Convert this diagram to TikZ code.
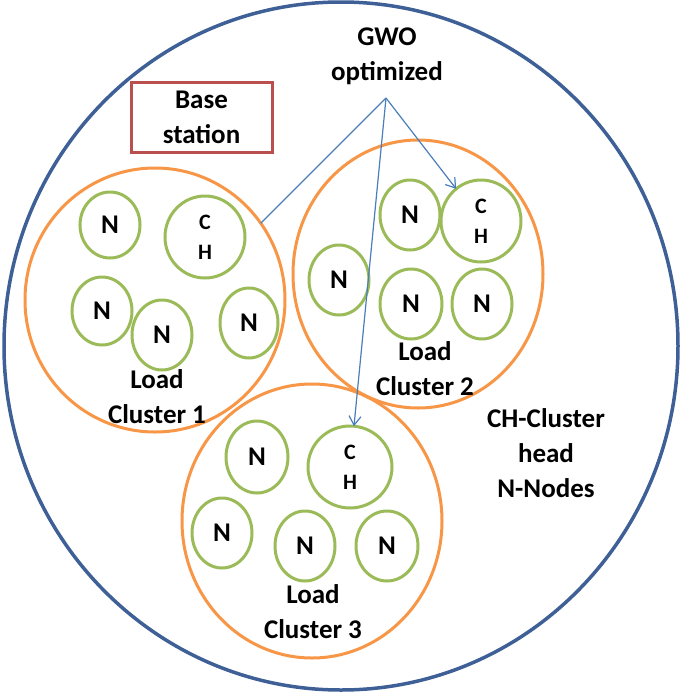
\documentclass[tikz,border=0pt]{standalone}
\usepackage{fontspec}
\setmainfont{Carlito}
\usetikzlibrary{shapes.geometric,arrows.meta}
\definecolor{outerblue}{RGB}{62,96,150}
\definecolor{arrowblue}{RGB}{74,126,187}
\definecolor{clorange}{RGB}{247,150,70}
\definecolor{nodegreen}{RGB}{155,187,89}
\definecolor{bsred}{RGB}{185,80,78}
\begin{document}
\begin{tikzpicture}[x=1pt,y=-1pt,
 lbl/.style={font=\fontsize{27}{35}\selectfont\bfseries, align=center, inner sep=0pt},
 cluster/.style={ellipse, draw=clorange, line width=3pt, inner sep=0pt, outer sep=0pt},
 nnode/.style={ellipse, draw=nodegreen, line width=3pt, inner sep=0pt, outer sep=0pt, minimum width=60pt, minimum height=70pt, font=\fontsize{27}{35}\selectfont\bfseries},
 chnode/.style={ellipse, draw=nodegreen, line width=3pt, inner sep=0pt, outer sep=0pt, minimum width=80pt, minimum height=82pt, font=\fontsize{22}{30}\selectfont\bfseries, align=center},
 link/.style={draw=arrowblue, line width=1.2pt},
 arr/.style={link, -{Straight Barb[length=9pt,width=12pt]}}]
\useasboundingbox (0,0) rectangle (681,694);
\node[ellipse, draw=outerblue, line width=3.5pt, minimum width=674pt, minimum height=688pt, inner sep=0pt] (world) at (341,346) {};
\node[draw=bsred, line width=3pt, minimum width=141pt, minimum height=70pt, lbl] (bs) at (201.5,117) {Base\\station};
% clusters
\node[cluster, minimum width=260pt, minimum height=264pt] (c1) at (155,300) {};
\node[cluster, minimum width=250pt, minimum height=268pt] (c2) at (418,274) {};
\node[cluster, minimum width=260pt, minimum height=274pt] (c3) at (312,521) {};
% cluster 1 nodes
\node[nnode, minimum height=66pt] (n11) at (110,225) {N};
\node[chnode] (ch1) at (205,237) {C\\H};
\node[nnode, minimum height=68pt] (n12) at (102,311) {N};
\node[nnode] (n13) at (162,335) {N};
\node[nnode, minimum width=58pt] (n14) at (249,323) {N};
% cluster 2 nodes
\node[nnode] (n21) at (410,215) {N};
\node[chnode] (ch2) at (481,221) {C\\H};
\node[nnode] (n22) at (339,280) {N};
\node[nnode, minimum width=62pt] (n23) at (411,304) {N};
\node[nnode] (n24) at (482,304) {N};
% cluster 3 nodes
\node[nnode, minimum width=62pt, minimum height=72pt] (n31) at (257,457) {N};
\node[chnode, minimum width=84pt] (ch3) at (350,467) {C\\H};
\node[nnode] (n32) at (222,533) {N};
\node[nnode] (n33) at (305,546) {N};
\node[nnode, minimum width=62pt] (n34) at (387,546) {N};
% labels
\node[lbl] (gwo) at (387,56.5) {GWO\\optimized};
\coordinate (src) at (386,98);
\node[lbl] (l1) at (157,397) {Load\\Cluster 1};
\node[lbl] (l2) at (425,368.5) {Load\\Cluster 2};
\node[lbl] (l3) at (313,611.5) {Load\\Cluster 3};
\node[lbl] (legend) at (546,452.8) {CH-Cluster\\head\\N-Nodes};
% connectors
\draw[link] (src) -- (c1.36.6);
\draw[arr] (src) -- (ch2);
\draw[arr] (src) -- (ch3);
\end{tikzpicture}
\end{document}
